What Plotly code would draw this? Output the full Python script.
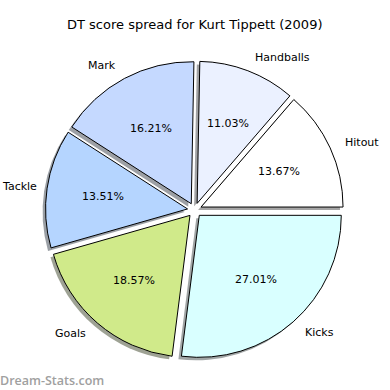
import math
import plotly.graph_objects as go

title = "DT score spread for Kurt Tippett (2009)"
categories = ["Hitout", "Handballs", "Mark", "Tackle", "Goals", "Kicks"]
percents = [13.67, 11.03, 16.21, 13.51, 18.57, 27.01]
colors_rgb = [(255, 255, 255), (235, 241, 255), (197, 217, 255),
              (181, 213, 255), (208, 234, 138), (217, 255, 255)]
explode = 0.05

W = H = 390
cx, cy, r = 194.6, 210.0, 142.0      # pixel geometry of the pie
half = r * (1 + explode)
dom_x = [(cx - half) / W, (cx + half) / W]
dom_y = [1 - (cy + half) / H, 1 - (cy - half) / H]
sh = 3.0  # shadow offset px (left & down)
label_size = 11

total = sum(percents)
# plotly's counterclockwise mode starts the first slice at rotation + its own size
rotation = 90 - 360.0 * percents[0] / total

colors = ["rgb(%d,%d,%d)" % c for c in colors_rgb]
shadow_colors = ["rgba(%d,%d,%d,0.5)" % tuple(int(0.3 * v) for v in c) for c in colors_rgb]

fig = go.Figure()
fig.add_trace(go.Pie(
    labels=categories, values=percents, sort=False, direction="counterclockwise",
    rotation=rotation, pull=[explode] * len(percents), textinfo="none", hoverinfo="skip",
    marker=dict(colors=shadow_colors, line=dict(width=0)),
    domain=dict(x=[dom_x[0] - sh / W, dom_x[1] - sh / W], y=[dom_y[0] - sh / H, dom_y[1] - sh / H]),
    showlegend=False,
))
fig.add_trace(go.Pie(
    labels=categories, values=percents, sort=False, direction="counterclockwise",
    rotation=rotation, pull=[explode] * len(percents), textinfo="none",
    marker=dict(colors=colors, line=dict(color="black", width=1)),
    domain=dict(x=dom_x, y=dom_y), showlegend=False,
))

start = 0.0
for lab, p in zip(categories, percents):
    ang = 360.0 * p / total
    mid = math.radians(start + ang / 2)
    start += ang
    c, s = math.cos(mid), math.sin(mid)
    dl = (1.1 + explode) * r
    lx, ly = cx + dl * c, cy - dl * s
    anchor = "left" if c > 0 else "right"
    est_w = 0.58 * label_size * len(lab)
    if anchor == "right" and lx - est_w < 0:
        lx, anchor = 0.0, "left"
    fig.add_annotation(x=lx / W, y=1 - ly / H, xref="paper", yref="paper", text=lab,
                       showarrow=False, xanchor=anchor, yanchor="middle",
                       font=dict(family="DejaVu Sans", size=label_size, color="black"))
    dp = (0.6 + explode) * r
    px, py = cx + dp * c, cy - dp * s
    fig.add_annotation(x=px / W, y=1 - py / H, xref="paper", yref="paper", text="%.2f%%" % p,
                       showarrow=False, xanchor="center", yanchor="middle",
                       font=dict(family="DejaVu Sans", size=label_size, color="black"))

fig.add_annotation(x=195 / W, y=1 - 25 / H, xref="paper", yref="paper", text=title,
                   showarrow=False, xanchor="center", yanchor="middle",
                   font=dict(family="DejaVu Sans", size=13, color="black"))
fig.add_annotation(x=0, y=1 - 380 / H, xref="paper", yref="paper", text="Dream-Stats.com",
                   showarrow=False, xanchor="left", yanchor="middle", xshift=-2,
                   font=dict(family="Open Sans", size=12.5, color="#a0a0a0", weight=600))

fig.update_layout(width=W, height=H, margin=dict(l=0, r=0, t=0, b=0),
                  paper_bgcolor="white", plot_bgcolor="white")
fig.write_html("out.html", config={"displayModeBar": False},
               post_script="document.body.style.margin='0';")
